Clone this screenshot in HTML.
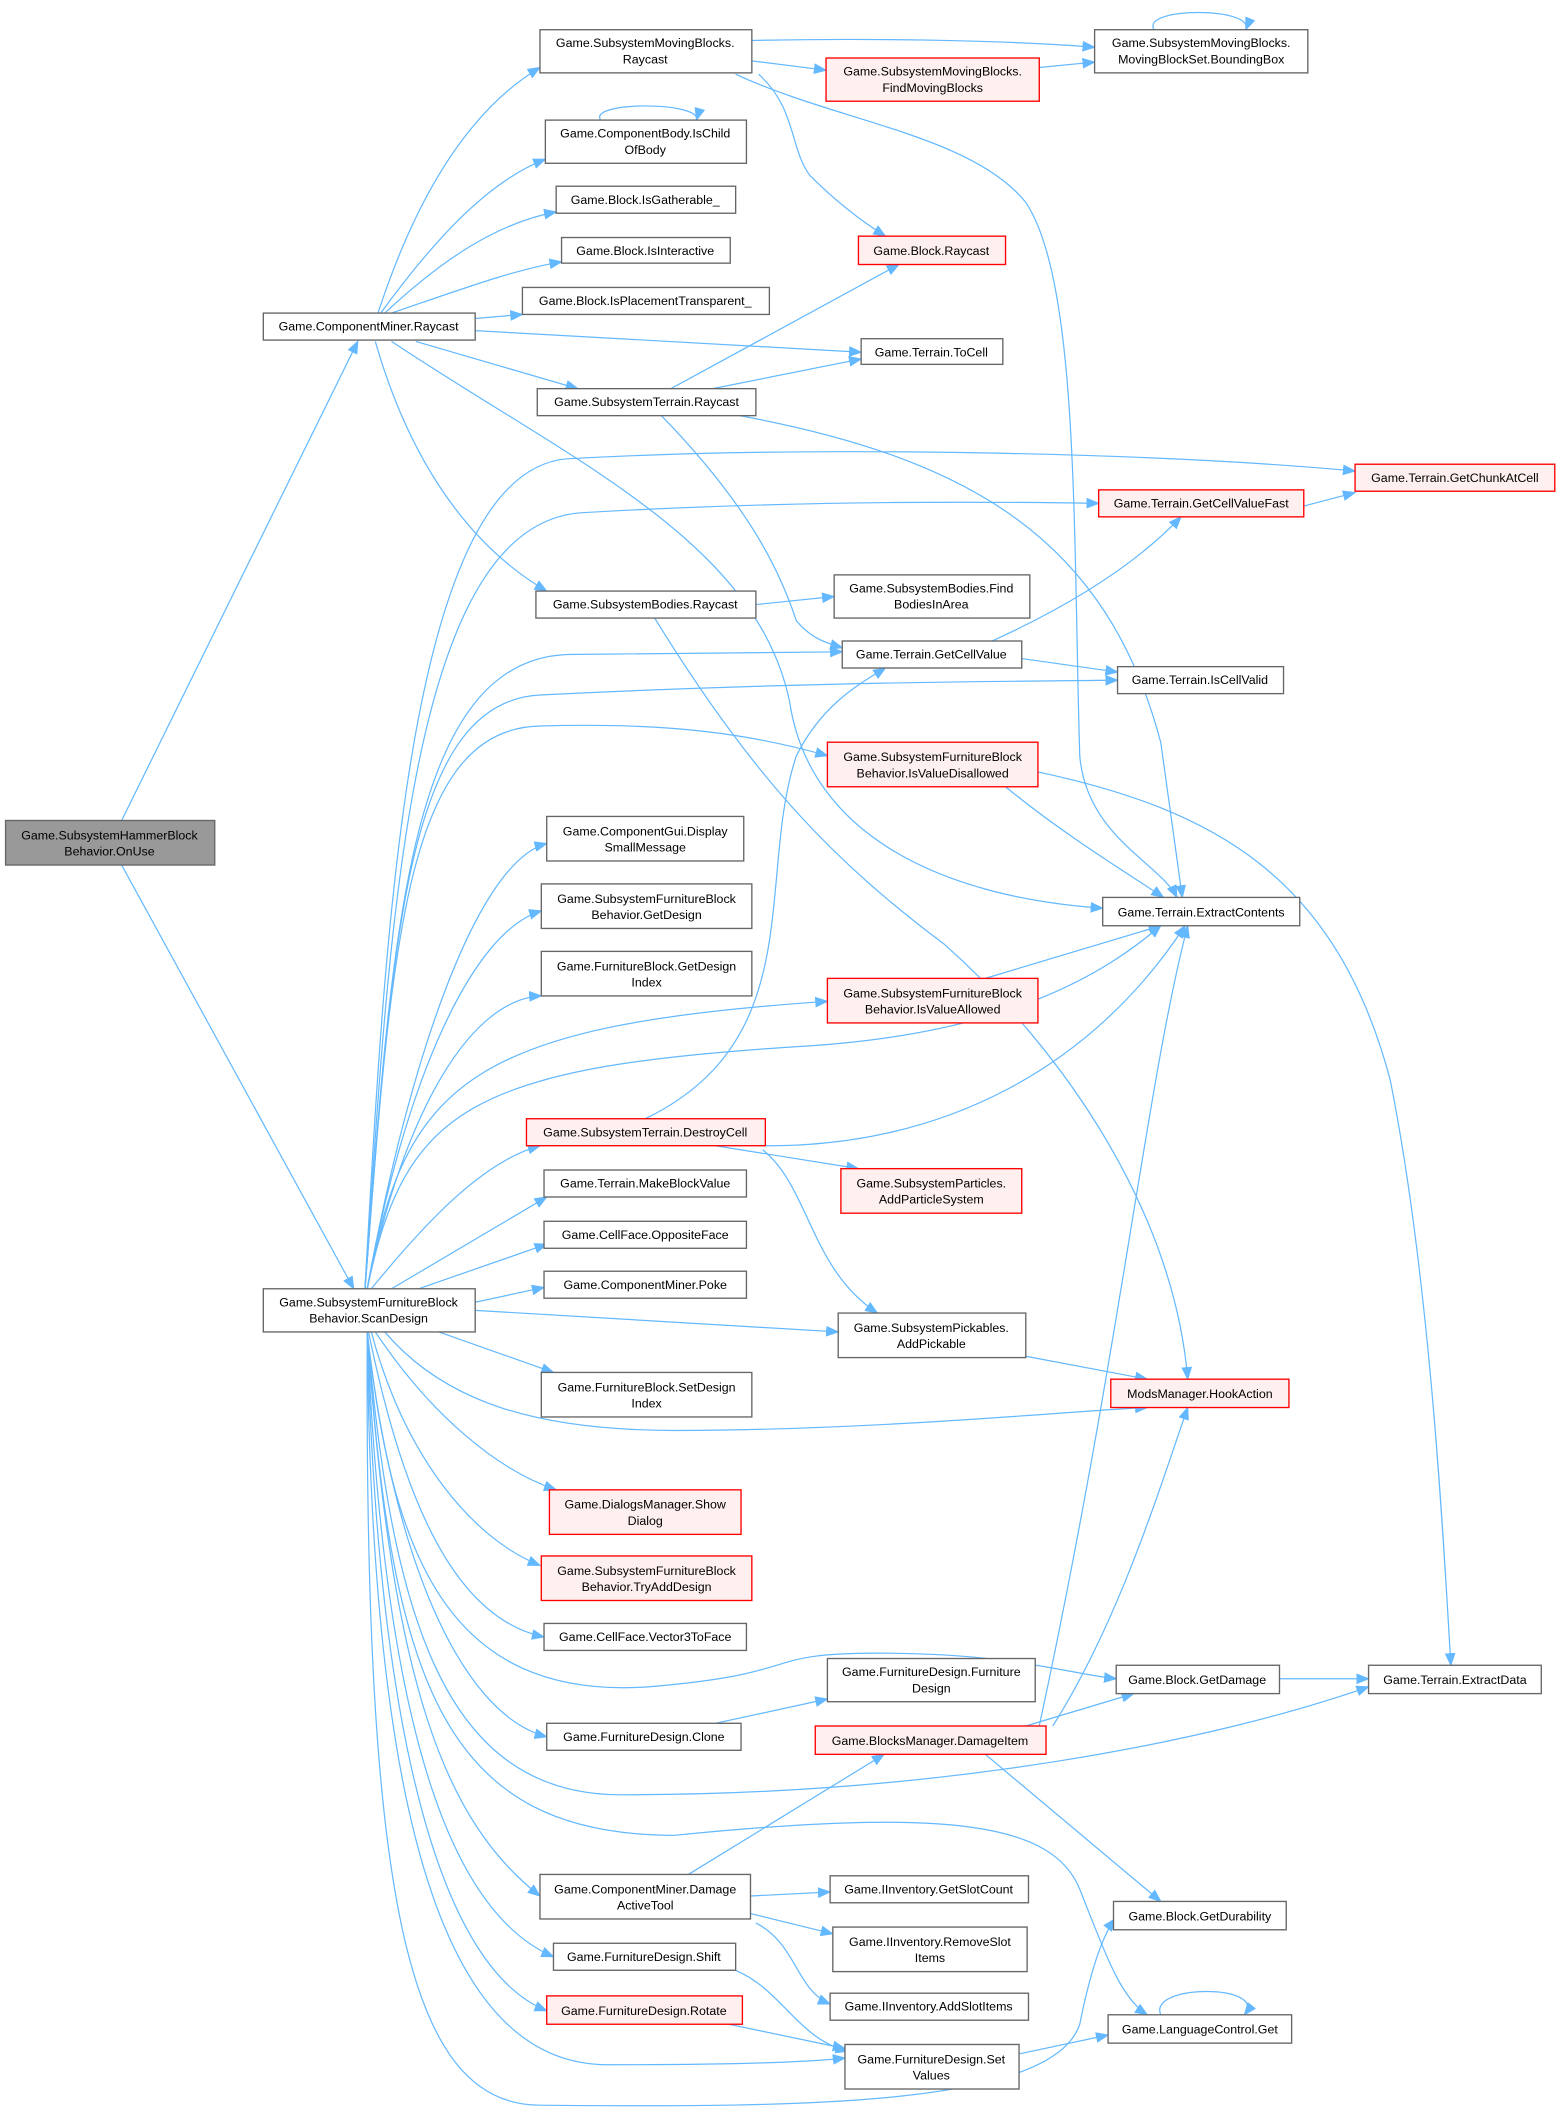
<!DOCTYPE html>
<html><head><meta charset="utf-8"><style>
html,body{margin:0;padding:0;background:#fff;}
svg{display:block;}
text{font-family:"Liberation Sans",sans-serif;font-size:9.2px;fill:#000;text-anchor:middle;}
.n{fill:#fff;stroke:#666;stroke-width:1;}
.r{fill:#fff0f0;stroke:#ff0000;stroke-width:1;}
.g{fill:#999;stroke:#666;stroke-width:1;}
path.e{fill:none;stroke:#63b8ff;stroke-width:0.9;marker-end:url(#a);}
</style></head><body>
<svg width="1559" height="2116" viewBox="0 0 1155 1568" xmlns="http://www.w3.org/2000/svg">
<defs><marker id="a" markerWidth="10" markerHeight="8" refX="9" refY="4" orient="auto" markerUnits="userSpaceOnUse"><path d="M0,0 L10,4 L0,8 z" fill="#63b8ff"/></marker></defs>

<!-- edges -->
<path class="e" d="M90,608 L265,253"/>
<path class="e" d="M90,641 L262,955"/>
<path class="e" d="M280,232 C310,140 350,80 400,50"/>
<path class="e" d="M282,232 C320,180 360,135 404,118"/>
<path class="e" d="M285,232 C330,190 370,165 412,157"/>
<path class="e" d="M290,232 C340,215 380,200 416,194"/>
<path class="e" d="M352,236 L387,233"/>
<path class="e" d="M352,245 L638,261"/>
<path class="e" d="M308,253 L428,288"/>
<path class="e" d="M278,253 C300,330 340,400 405,438"/>
<path class="e" d="M290,253 C420,340 560,400 585,520 C600,620 700,665 817,673"/>
<path class="e" d="M556,30 C650,28 750,30 811,35"/>
<path class="e" d="M556,45 L612,52"/>
<path class="e" d="M562,55 C590,80 585,110 600,130 C620,150 640,165 656,175"/>
<path class="e" d="M545,55 C620,90 720,100 760,150 C800,210 795,400 800,560 C805,620 860,640 872,665"/>
<path class="e" d="M770,50 L811,46"/>
<path class="e" d="M855,22 C845,5 930,5 923,22"/>
<path class="e" d="M445,89 C435,75 520,75 516,89"/>
<path class="e" d="M528,288 L638,266"/>
<path class="e" d="M497,288 L666,196"/>
<path class="e" d="M548,308 C720,340 820,400 860,550 L876,665"/>
<path class="e" d="M490,308 C560,380 580,430 590,460 C600,472 610,476 624,480"/>
<path class="e" d="M560,448 L618,442"/>
<path class="e" d="M485,458 C560,580 620,640 700,700 C790,780 870,900 880,1022"/>
<path class="e" d="M735,475 C790,450 840,420 875,383"/>
<path class="e" d="M757,488 L828,498"/>
<path class="e" d="M966,375 L1004,365"/>
<path class="e" d="M745,583 C790,620 840,650 862,665"/>
<path class="e" d="M769,572 C900,600 990,650 1030,800 C1060,950 1070,1150 1075,1234"/>
<path class="e" d="M730,725 L860,686"/>
<path class="e" d="M567,849 C700,850 810,790 878,686"/>
<path class="e" d="M478,829 C600,770 560,650 590,560 C610,520 640,505 656,495"/>
<path class="e" d="M530,849 L636,866"/>
<path class="e" d="M565,852 C600,880 600,940 650,973"/>
<path class="e" d="M760,1005 L850,1022"/>
<path class="e" d="M530,1277 L613,1259"/>
<path class="e" d="M760,1279 L840,1255"/>
<path class="e" d="M770,1279 C830,1000 850,800 880,686"/>
<path class="e" d="M780,1279 C830,1200 860,1100 880,1043"/>
<path class="e" d="M730,1300 L860,1409"/>
<path class="e" d="M948,1244 L1014,1244"/>
<path class="e" d="M510,1389 L655,1300"/>
<path class="e" d="M556,1405 L615,1402"/>
<path class="e" d="M556,1418 L617,1433"/>
<path class="e" d="M560,1425 C590,1440 590,1475 615,1485"/>
<path class="e" d="M545,1460 C580,1475 590,1510 628,1520"/>
<path class="e" d="M540,1500 L626,1518"/>
<path class="e" d="M755,1522 L821,1508"/>
<path class="e" d="M860,1493 C850,1470 940,1470 922,1493"/>
<!-- ScanDesign fan -->
<path class="e" d="M270,960 C285,700 300,350 420,340 C600,330 850,335 1004,349"/>
<path class="e" d="M270,960 C288,700 300,390 430,380 C600,370 750,372 814,373"/>
<path class="e" d="M270,960 C290,700 300,490 420,485 L624,483"/>
<path class="e" d="M270,960 C290,700 300,520 400,515 C600,505 750,505 828,504"/>
<path class="e" d="M270,960 C290,700 300,540 400,538 C500,535 560,545 613,560"/>
<path class="e" d="M272,955 C300,800 350,640 405,625"/>
<path class="e" d="M272,955 C300,800 350,690 401,675"/>
<path class="e" d="M272,955 C300,820 350,740 401,738"/>
<path class="e" d="M272,955 C300,800 350,760 613,742"/>
<path class="e" d="M272,955 C300,820 350,790 600,775 C750,765 820,720 860,686"/>
<path class="e" d="M275,955 C320,900 360,860 400,849"/>
<path class="e" d="M290,955 L405,887"/>
<path class="e" d="M310,955 L405,922"/>
<path class="e" d="M352,965 L403,954"/>
<path class="e" d="M352,971 L621,987"/>
<path class="e" d="M325,987 L410,1017"/>
<path class="e" d="M285,987 C330,1040 400,1060 500,1060 C650,1060 800,1045 850,1043"/>
<path class="e" d="M278,987 C320,1050 370,1090 412,1104"/>
<path class="e" d="M275,987 C300,1080 350,1140 400,1160"/>
<path class="e" d="M273,987 C300,1120 340,1200 403,1213"/>
<path class="e" d="M272,987 C290,1150 330,1260 480,1250 C600,1240 560,1225 650,1225 C750,1225 790,1240 827,1244"/>
<path class="e" d="M272,987 C290,1150 340,1270 405,1287"/>
<path class="e" d="M272,987 C290,1200 330,1330 460,1330 C700,1330 900,1290 1014,1250"/>
<path class="e" d="M272,987 C290,1250 330,1350 400,1405"/>
<path class="e" d="M272,987 C290,1250 330,1360 500,1360 C700,1340 780,1350 800,1400 C820,1450 830,1480 850,1493"/>
<path class="e" d="M272,987 C285,1300 340,1420 410,1450"/>
<path class="e" d="M272,987 C280,1300 330,1460 405,1490"/>
<path class="e" d="M272,987 C275,1350 330,1530 450,1530 C550,1530 600,1528 626,1525"/>
<path class="e" d="M272,987 C270,1400 300,1560 400,1560 C600,1562 780,1560 800,1500 C810,1450 820,1430 826,1422"/>

<!-- nodes -->
<rect class="g" x="4" y="608" width="155" height="33"/><text x="81" y="622">Game.SubsystemHammerBlock</text><text x="81" y="634">Behavior.OnUse</text>
<rect class="n" x="195" y="232" width="157" height="20"/><text x="273" y="245">Game.ComponentMiner.Raycast</text>
<rect class="n" x="195" y="955" width="157" height="32"/><text x="273" y="968">Game.SubsystemFurnitureBlock</text><text x="273" y="980">Behavior.ScanDesign</text>
<rect class="n" x="400" y="22" width="157" height="32"/><text x="478" y="35">Game.SubsystemMovingBlocks.</text><text x="478" y="47">Raycast</text>
<rect class="n" x="404" y="89" width="149" height="32"/><text x="478" y="102">Game.ComponentBody.IsChild</text><text x="478" y="114">OfBody</text>
<rect class="n" x="412" y="138" width="133" height="20"/><text x="478" y="151">Game.Block.IsGatherable_</text>
<rect class="n" x="416" y="176" width="125" height="19"/><text x="478" y="189">Game.Block.IsInteractive</text>
<rect class="n" x="387" y="213" width="183" height="20"/><text x="478" y="226">Game.Block.IsPlacementTransparent_</text>
<rect class="n" x="398" y="288" width="162" height="20"/><text x="479" y="301">Game.SubsystemTerrain.Raycast</text>
<rect class="n" x="397" y="438" width="163" height="20"/><text x="478" y="451">Game.SubsystemBodies.Raycast</text>
<rect class="n" x="811" y="22" width="158" height="32"/><text x="890" y="35">Game.SubsystemMovingBlocks.</text><text x="890" y="47">MovingBlockSet.BoundingBox</text>
<rect class="r" x="612" y="43" width="158" height="32"/><text x="691" y="56">Game.SubsystemMovingBlocks.</text><text x="691" y="68">FindMovingBlocks</text>
<rect class="r" x="636" y="175" width="109" height="21"/><text x="690" y="189">Game.Block.Raycast</text>
<rect class="n" x="638" y="251" width="105" height="19"/><text x="690" y="264">Game.Terrain.ToCell</text>
<rect class="r" x="1004" y="344" width="148" height="20"/><text x="1078" y="357">Game.Terrain.GetChunkAtCell</text>
<rect class="r" x="814" y="363" width="152" height="20"/><text x="890" y="376">Game.Terrain.GetCellValueFast</text>
<rect class="n" x="618" y="426" width="145" height="32"/><text x="690" y="439">Game.SubsystemBodies.Find</text><text x="690" y="451">BodiesInArea</text>
<rect class="n" x="624" y="475" width="133" height="20"/><text x="690" y="488">Game.Terrain.GetCellValue</text>
<rect class="n" x="828" y="494" width="123" height="20"/><text x="889" y="507">Game.Terrain.IsCellValid</text>
<rect class="r" x="613" y="550" width="156" height="33"/><text x="691" y="564">Game.SubsystemFurnitureBlock</text><text x="691" y="576">Behavior.IsValueDisallowed</text>
<rect class="n" x="405" y="605" width="146" height="33"/><text x="478" y="619">Game.ComponentGui.Display</text><text x="478" y="631">SmallMessage</text>
<rect class="n" x="401" y="655" width="156" height="33"/><text x="479" y="669">Game.SubsystemFurnitureBlock</text><text x="479" y="681">Behavior.GetDesign</text>
<rect class="n" x="401" y="705" width="156" height="33"/><text x="479" y="719">Game.FurnitureBlock.GetDesign</text><text x="479" y="731">Index</text>
<rect class="n" x="817" y="665" width="146" height="21"/><text x="890" y="679">Game.Terrain.ExtractContents</text>
<rect class="r" x="613" y="725" width="156" height="33"/><text x="691" y="739">Game.SubsystemFurnitureBlock</text><text x="691" y="751">Behavior.IsValueAllowed</text>
<rect class="r" x="390" y="829" width="177" height="20"/><text x="478" y="842">Game.SubsystemTerrain.DestroyCell</text>
<rect class="n" x="403" y="867" width="150" height="20"/><text x="478" y="880">Game.Terrain.MakeBlockValue</text>
<rect class="r" x="623" y="866" width="134" height="33"/><text x="690" y="880">Game.SubsystemParticles.</text><text x="690" y="892">AddParticleSystem</text>
<rect class="n" x="403" y="905" width="150" height="20"/><text x="478" y="918">Game.CellFace.OppositeFace</text>
<rect class="n" x="403" y="942" width="150" height="20"/><text x="478" y="955">Game.ComponentMiner.Poke</text>
<rect class="n" x="621" y="973" width="139" height="33"/><text x="690" y="987">Game.SubsystemPickables.</text><text x="690" y="999">AddPickable</text>
<rect class="n" x="401" y="1017" width="156" height="33"/><text x="479" y="1031">Game.FurnitureBlock.SetDesign</text><text x="479" y="1043">Index</text>
<rect class="r" x="823" y="1022" width="132" height="21"/><text x="889" y="1036">ModsManager.HookAction</text>
<rect class="r" x="407" y="1104" width="142" height="33"/><text x="478" y="1118">Game.DialogsManager.Show</text><text x="478" y="1130">Dialog</text>
<rect class="r" x="401" y="1153" width="156" height="33"/><text x="479" y="1167">Game.SubsystemFurnitureBlock</text><text x="479" y="1179">Behavior.TryAddDesign</text>
<rect class="n" x="403" y="1203" width="150" height="20"/><text x="478" y="1216">Game.CellFace.Vector3ToFace</text>
<rect class="n" x="613" y="1229" width="154" height="32"/><text x="690" y="1242">Game.FurnitureDesign.Furniture</text><text x="690" y="1254">Design</text>
<rect class="n" x="827" y="1234" width="121" height="21"/><text x="887" y="1248">Game.Block.GetDamage</text>
<rect class="n" x="1014" y="1234" width="128" height="21"/><text x="1078" y="1248">Game.Terrain.ExtractData</text>
<rect class="n" x="405" y="1277" width="144" height="20"/><text x="477" y="1290">Game.FurnitureDesign.Clone</text>
<rect class="r" x="604" y="1279" width="171" height="21"/><text x="689" y="1293">Game.BlocksManager.DamageItem</text>
<rect class="n" x="400" y="1389" width="156" height="33"/><text x="478" y="1403">Game.ComponentMiner.Damage</text><text x="478" y="1415">ActiveTool</text>
<rect class="n" x="615" y="1390" width="147" height="20"/><text x="688" y="1403">Game.IInventory.GetSlotCount</text>
<rect class="n" x="825" y="1409" width="128" height="21"/><text x="889" y="1423">Game.Block.GetDurability</text>
<rect class="n" x="617" y="1428" width="144" height="33"/><text x="689" y="1442">Game.IInventory.RemoveSlot</text><text x="689" y="1454">Items</text>
<rect class="n" x="410" y="1440" width="135" height="20"/><text x="477" y="1453">Game.FurnitureDesign.Shift</text>
<rect class="n" x="615" y="1477" width="147" height="20"/><text x="688" y="1490">Game.IInventory.AddSlotItems</text>
<rect class="r" x="405" y="1479" width="145" height="21"/><text x="477" y="1493">Game.FurnitureDesign.Rotate</text>
<rect class="n" x="821" y="1493" width="136" height="21"/><text x="889" y="1507">Game.LanguageControl.Get</text>
<rect class="n" x="626" y="1515" width="129" height="33"/><text x="690" y="1529">Game.FurnitureDesign.Set</text><text x="690" y="1541">Values</text>
</svg>
</body></html>
